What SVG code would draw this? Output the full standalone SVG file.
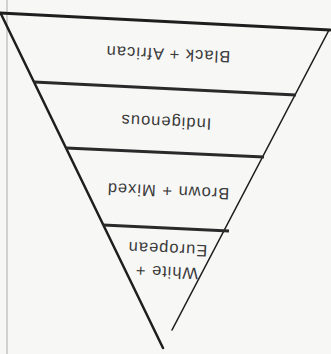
<svg xmlns="http://www.w3.org/2000/svg" width="331" height="354" viewBox="0 0 331 354">
<style>
.edge{stroke:#1e1e1e;fill:none;stroke-linecap:round}
.div{stroke:#2a2a2a;stroke-width:3;fill:none}
.lbl{font-family:"Liberation Sans",Arial,sans-serif;font-size:16.5px;letter-spacing:1px;fill:#3a3a3a;text-anchor:middle;dominant-baseline:middle}
</style>
<rect width="331" height="354" fill="#f7f7f6"/>
<line x1="7" y1="0" x2="7" y2="354" stroke="#b8b8b8" stroke-width="1.2"/>
<g id="outline">
<line class="edge" x1="0" y1="13" x2="330" y2="30" stroke-width="3"/>
<line class="edge" x1="1" y1="14" x2="163" y2="348" stroke-width="2.5"/>
<line class="edge" x1="329" y1="30" x2="172" y2="330" stroke-width="1.6"/>
</g>
<g id="dividers">
<line class="div" x1="34" y1="82" x2="296" y2="95"/>
<line class="div" x1="66" y1="148" x2="264" y2="157"/>
<line class="div" x1="103" y1="225" x2="229" y2="231"/>
</g>
<g id="black-african">
<text class="lbl" transform="translate(168,53) rotate(182.5)">Black + African</text>
</g>
<g id="indigenous">
<text class="lbl" transform="translate(166,121) rotate(182.5)">Indigenous</text>
</g>
<g id="brown-mixed">
<text class="lbl" transform="translate(168,190) rotate(182.5)">Brown + Mixed</text>
</g>
<g id="white-european">
<text class="lbl" transform="translate(167,259) rotate(182.5)"><tspan x="0" y="-11.5">White +</tspan><tspan x="0" y="11.5">European</tspan></text>
</g>
</svg>
